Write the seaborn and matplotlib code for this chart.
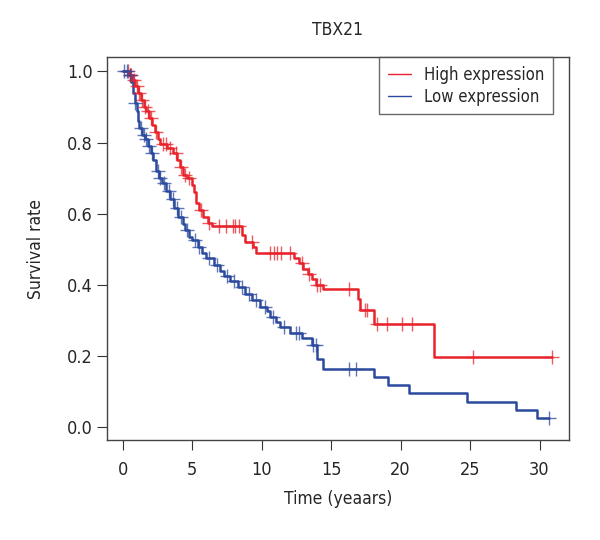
import numpy as np
import pandas as pd
import matplotlib
matplotlib.use("Agg")
import matplotlib.pyplot as plt
from matplotlib.lines import Line2D
from matplotlib import font_manager as fm
import seaborn as sns

# ---- data ----
high_t = [0, 0.5, 0.7, 0.9, 1.1, 1.3, 1.5, 1.7, 1.9, 2.1, 2.3, 2.5, 2.7, 3.2, 3.6, 3.9,
          4.1, 4.3, 4.6, 5.0, 5.1, 5.3, 5.5, 5.8, 6.1, 6.4, 8.6, 8.8, 9.4, 9.6, 12.3,
          12.7, 13.0, 13.3, 13.6, 13.9, 14.4, 16.9, 17.1, 18.1, 22.4, 30.9]
high_s = [1.0, 0.99, 0.975, 0.96, 0.94, 0.92, 0.90, 0.89, 0.87, 0.85, 0.83, 0.81, 0.795,
          0.785, 0.77, 0.75, 0.73, 0.71, 0.70, 0.68, 0.66, 0.63, 0.61, 0.59, 0.575, 0.565,
          0.54, 0.52, 0.505, 0.49, 0.475, 0.46, 0.445, 0.43, 0.415, 0.40, 0.388, 0.36,
          0.33, 0.29, 0.197, 0.197]
high_cens = [0.35, 0.5, 0.6, 0.8, 1.0, 1.2, 1.4, 1.6, 1.8, 2.0, 2.4, 2.9, 3.1, 3.4, 3.8,
             4.2, 4.5, 4.8, 5.6, 6.2, 6.9, 7.4, 7.9, 8.1, 8.4, 9.3, 10.6, 10.9, 11.1,
             11.4, 12.0, 12.9, 13.4, 14.0, 14.2, 16.3, 17.4, 17.6, 18.3, 19.0, 20.1,
             20.8, 25.2, 30.9]

low_t = [0, 0.4, 0.6, 0.7, 0.85, 1.0, 1.1, 1.2, 1.4, 1.6, 1.8, 2.0, 2.2, 2.4, 2.6, 2.8,
         3.1, 3.4, 3.7, 4.0, 4.3, 4.5, 4.8, 5.0, 5.4, 5.7, 6.0, 6.6, 7.0, 7.3, 7.7, 8.3,
         8.8, 9.3, 9.9, 10.4, 10.6, 11.0, 11.3, 12.0, 12.9, 13.6, 14.0, 14.4, 18.1, 19.1,
         20.6, 24.8, 28.3, 29.8, 30.7]
low_s = [1.0, 0.99, 0.97, 0.94, 0.91, 0.89, 0.86, 0.84, 0.82, 0.81, 0.79, 0.77, 0.75,
         0.72, 0.70, 0.686, 0.665, 0.64, 0.615, 0.59, 0.57, 0.554, 0.535, 0.526, 0.505,
         0.49, 0.475, 0.455, 0.44, 0.425, 0.41, 0.394, 0.375, 0.357, 0.337, 0.325, 0.31,
         0.295, 0.28, 0.264, 0.25, 0.23, 0.19, 0.163, 0.14, 0.118, 0.095, 0.07, 0.047,
         0.025, 0.025]
low_cens = [0.1, 0.3, 0.5, 0.9, 1.3, 1.5, 1.7, 1.9, 2.1, 2.5, 2.7, 3.0, 3.3, 3.6, 3.9,
            4.2, 4.6, 5.2, 5.5, 6.2, 6.8, 7.5, 8.0, 8.6, 9.1, 9.6, 10.2, 10.8, 11.6,
            12.5, 12.7, 13.7, 13.9, 16.3, 16.8, 30.7]

groups = ["High expression", "Low expression"]
colors = ["#e8232b", "#2b4a9e"]
title = "TBX21"
xlabel = "Time (yeaars)"
ylabel = "Survival rate"
xticks = [0, 5, 10, 15, 20, 25, 30]
yticks = [0.0, 0.2, 0.4, 0.6, 0.8, 1.0]

sns.set_style("white")
names = {f.name for f in fm.fontManager.ttflist}
narrow = [n for n in ["Liberation Sans Narrow", "DejaVu Sans Condensed"] if n in names]
plt.rcParams["font.family"] = narrow + ["DejaVu Sans"]
plt.rcParams["font.stretch"] = "condensed"

fig = plt.figure(figsize=(6, 5.4), dpi=100)
ax = fig.add_axes([0.178, 0.185, 0.770, 0.709])

def surv_at(ts, ss, c):
    idx = np.searchsorted(np.array(ts), np.array(c), side="right") - 1
    return np.array(ss)[idx]

for t, s, cens, col in [(high_t, high_s, high_cens, colors[0]),
                        (low_t, low_s, low_cens, colors[1])]:
    df = pd.DataFrame({"t": t, "s": s})
    sns.lineplot(data=df, x="t", y="s", drawstyle="steps-post", color=col,
                 linewidth=1.8, estimator=None, sort=False, ax=ax)
    cdf = pd.DataFrame({"t": cens, "s": surv_at(t, s, cens)})
    sns.scatterplot(data=cdf, x="t", y="s", marker="+", s=90, color=col,
                    linewidth=1.0, alpha=0.75, ax=ax, zorder=3)

ax.set_xlim(-1.15, 32.1)
ax.set_ylim(-0.037, 1.04)
ax.set_xticks(xticks)
ax.set_yticks(yticks)
ax.set_yticklabels([f"{v:.1f}" for v in yticks])
ax.tick_params(axis="both", direction="out", length=7, width=0.8, color="#333333",
               labelsize=13, bottom=True, left=True)
ax.tick_params(axis="x", pad=8)
ax.tick_params(axis="y", pad=3)
for sp in ax.spines.values():
    sp.set_color("#444444")
    sp.set_linewidth(1.0)
ax.set_xlabel(xlabel, fontsize=12.5, labelpad=8)
ax.set_ylabel(ylabel, fontsize=12.5, labelpad=16)
ax.set_title(title, fontsize=12.5, pad=16)

handles = [Line2D([0], [0], color=colors[0], lw=1.0),
           Line2D([0], [0], color=colors[1], lw=1.0)]
leg = ax.legend(handles, groups, loc="upper right", bbox_to_anchor=(0.966, 1.0),
                frameon=True, fancybox=False, fontsize=12, handlelength=1.4,
                borderpad=0.5, labelspacing=0.25, handletextpad=0.8,
                borderaxespad=0)
leg.get_frame().set_edgecolor("#444444")
leg.get_frame().set_linewidth(1.0)

fig.savefig("out.png", dpi=100)
